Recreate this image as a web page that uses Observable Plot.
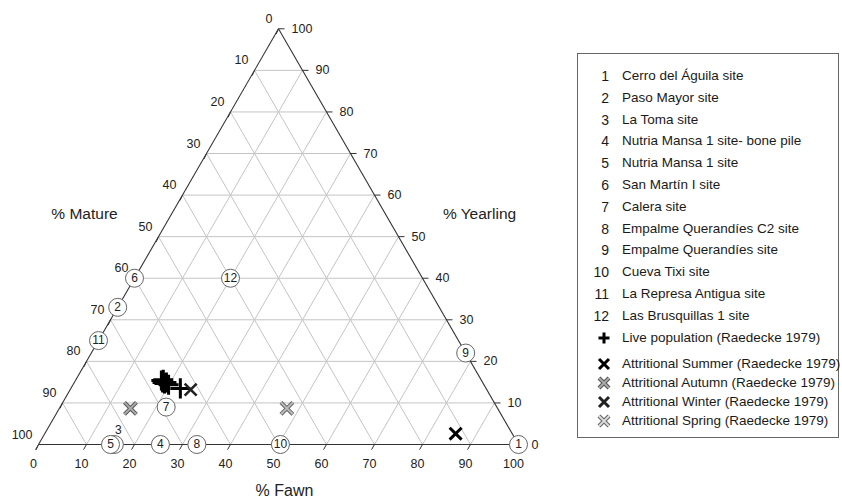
<!DOCTYPE html>
<html>
<head>
<meta charset="utf-8">
<script src="https://cdn.jsdelivr.net/npm/d3@7"></script>
<script src="https://cdn.jsdelivr.net/npm/@observablehq/plot@0.6"></script>
<style>
  body { margin: 0; background: #fff; font-family: "Liberation Sans", Arial, sans-serif; }
  #wrap { position: relative; width: 842px; height: 500px; overflow: hidden; }
  #legend { position: absolute; left: 577px; top: 53px; width: 262px; height: 385px; border: 1px solid #666; box-sizing: border-box; }
  .row { position: absolute; left: 0; width: 300px; height: 20px; line-height: 20px; white-space: nowrap; color: #1a1a1a; }
  .num { position: absolute; left: 0; width: 31px; text-align: right; font-size: 14px; }
  .sym { position: absolute; left: 18px; top: 2px; }
  .lab { position: absolute; left: 44px; font-size: 13.5px; }
</style>
</head>
<body>
<div id="wrap">
  <div id="chart"></div>
  <div id="legend"></div>
</div>
<script>
// ---- data ----
const siteIds = [1, 2, 3, 4, 5, 6, 7, 8, 9, 10, 11, 12];
const siteNames = [
  "Cerro del Águila site", "Paso Mayor site", "La Toma site",
  "Nutria Mansa 1 site- bone pile", "Nutria Mansa 1 site", "San Martín I site",
  "Calera site", "Empalme Querandíes C2 site", "Empalme Querandíes site",
  "Cueva Tixi site", "La Represa Antigua site", "Las Brusquillas 1 site"
];
const siteFawn     = [100, 0, 15.8, 25.4, 15, 0, 22.1, 33, 78, 50.4, 0, 20];
const siteYearling = [0, 33, 0, 0, 0, 40, 9, 0, 22, 0, 25, 40];

const liveFawn     = [17.9, 18.2, 18.9, 19.2, 19.9, 18.4, 22.8];
const liveYearling = [15.4, 15.6, 14.7, 14.9, 14.4, 14.9, 13.5];

const seasonNames    = ["Summer", "Autumn", "Winter", "Spring"];
const seasonFawn     = [85.6, 14.8, 25.1, 47.4];
const seasonYearling = [2.6, 8.7, 13.2, 8.7];

const tickValues = [0, 10, 20, 30, 40, 50, 60, 70, 80, 90, 100];
const gridValues = [10, 20, 30, 40, 50, 60, 70, 80, 90];

const axisTitles = ["% Mature", "% Yearling", "% Fawn"];

// ---- ternary -> cartesian (fawn, yearling; mature = 100 - fawn - yearling) ----
const S3 = Math.sqrt(3) / 2;
const tern = (f, yr) => ({x: f + yr / 2, y: yr * S3});

const sites = siteIds.map((id, i) => ({id, name: siteNames[i], ...tern(siteFawn[i], siteYearling[i])}));
const live = liveFawn.map((f, i) => tern(f, liveYearling[i]));
const seasons = seasonNames.map((n, i) => ({name: n, ...tern(seasonFawn[i], seasonYearling[i])}));

const seg = (a, b) => ({x1: a.x, y1: a.y, x2: b.x, y2: b.y});
const grid = gridValues.flatMap(v => [
  seg(tern(0, v), tern(100 - v, v)),          // constant yearling
  seg(tern(v, 0), tern(v, 100 - v)),          // constant fawn
  seg(tern(0, 100 - v), tern(100 - v, 0))     // constant mature
]);
const edges = [
  seg(tern(0, 0), tern(100, 0)),
  seg(tern(100, 0), tern(0, 100)),
  seg(tern(0, 100), tern(0, 0))
];
const L = 1.25;
const bottomTicks = tickValues.map(v => {const p = tern(v, 0); return {v, ...p, x2: p.x - 0.5 * L, y2: p.y - S3 * L};});
const rightTicks = tickValues.map(v => {const p = tern(100 - v, v); return {v, ...p, x2: p.x + L, y2: p.y};});
const leftTicks = tickValues.map(v => {const p = tern(0, 100 - v); return {v, ...p, x2: p.x - 0.4 * L, y2: p.y - 0.9 * L};});

const font = "Liberation Sans, Arial, sans-serif";
const titleOpts = {frameAnchor: "top-left", textAnchor: "middle", lineAnchor: "middle", fill: "#222"};

const chart = Plot.plot({
  width: 842,
  height: 500,
  marginLeft: 38,
  marginRight: 324,
  marginTop: 28.3,
  marginBottom: 56,
  x: {domain: [0, 100], axis: null},
  y: {domain: [0, 100 * S3], axis: null},
  style: {fontFamily: font, background: "white", overflow: "visible"},
  marks: [
    Plot.link(grid, {x1: "x1", y1: "y1", x2: "x2", y2: "y2", stroke: "#c4c4c4", strokeWidth: 1}),
    Plot.link(edges, {x1: "x1", y1: "y1", x2: "x2", y2: "y2", stroke: "#333", strokeWidth: 1.1}),
    Plot.link(bottomTicks, {x1: "x", y1: "y", x2: "x2", y2: "y2", stroke: "#333"}),
    Plot.link(rightTicks, {x1: "x", y1: "y", x2: "x2", y2: "y2", stroke: "#333"}),
    Plot.link(leftTicks, {x1: "x", y1: "y", x2: "x2", y2: "y2", stroke: "#333"}),
    Plot.text(bottomTicks, {x: "x", y: "y", text: d => String(d.v), dx: -5, dy: 19, fontSize: 12.5, fill: "#222"}),
    Plot.text(rightTicks, {x: "x", y: "y", text: d => String(d.v), dx: 13, textAnchor: "start", fontSize: 12.5, fill: "#222"}),
    Plot.text(leftTicks, {x: "x", y: "y", text: d => String(d.v), dx: -6, dy: -10, textAnchor: "end", fontSize: 12.5, fill: "#222"}),
    Plot.text([axisTitles[0]], {...titleOpts, dx: 46, dy: 185, fontSize: 15.5}),
    Plot.text([axisTitles[1]], {...titleOpts, dx: 441, dy: 185, fontSize: 15.5}),
    Plot.text([axisTitles[2]], {...titleOpts, dx: 246, dy: 462, fontSize: 16}),
    // live population
    Plot.dot(live, {x: "x", y: "y", symbol: "plus", r: 6.5, stroke: "#000", strokeWidth: 3}),
    // attritional seasons
    Plot.dot(seasons.filter(d => d.name === "Summer"), {x: "x", y: "y", symbol: "times", r: 5.5, stroke: "#000", strokeWidth: 3}),
    Plot.dot(seasons.filter(d => d.name === "Winter"), {x: "x", y: "y", symbol: "times", r: 5.5, stroke: "#222", strokeWidth: 2.6}),
    Plot.dot(seasons.filter(d => d.name === "Autumn"), {x: "x", y: "y", symbol: "times", r: 5.5, stroke: "#555", strokeWidth: 4}),
    Plot.dot(seasons.filter(d => d.name === "Autumn"), {x: "x", y: "y", symbol: "times", r: 5.5, stroke: "#aaa", strokeWidth: 2}),
    Plot.dot(seasons.filter(d => d.name === "Spring"), {x: "x", y: "y", symbol: "times", r: 5.5, stroke: "#666", strokeWidth: 4}),
    Plot.dot(seasons.filter(d => d.name === "Spring"), {x: "x", y: "y", symbol: "times", r: 5.5, stroke: "#bbb", strokeWidth: 2}),
    // sites
    Plot.dot(sites, {x: "x", y: "y", r: 9, fill: "white", stroke: "#666", strokeWidth: 1}),
    Plot.text(sites.filter(d => d.id !== 3), {x: "x", y: "y", text: d => String(d.id), fontSize: 12, fill: "#222"}),
    Plot.text(sites.filter(d => d.id === 3), {x: "x", y: "y", text: d => String(d.id), dx: 4, dy: -14, fontSize: 12, fill: "#222"})
  ]
});
document.getElementById("chart").appendChild(chart);

// ---- legend ----
const legend = document.getElementById("legend");
const plusSvg = '<svg width="16" height="16" viewBox="-8 -8 16 16"><path d="M-5.5,0H5.5M0,-5.5V5.5" stroke="#000" stroke-width="3"/></svg>';
const timesSvg = (outer, inner, w) => '<svg width="16" height="16" viewBox="-8 -8 16 16"><path d="M-5,-5L5,5M-5,5L5,-5" stroke="' + outer + '" stroke-width="' + w + '"/>' +
  (inner ? '<path d="M-5,-5L5,5M-5,5L5,-5" stroke="' + inner + '" stroke-width="1.8"/>' : '') + '</svg>';
const seasonSym = {
  Summer: timesSvg("#000", null, 3),
  Autumn: timesSvg("#555", "#aaa", 4),
  Winter: timesSvg("#222", null, 3),
  Spring: timesSvg("#666", "#ddd", 4)
};
siteIds.forEach((id, i) => {
  const r = document.createElement("div");
  r.className = "row";
  r.style.top = (12 + i * 21.8) + "px";
  r.innerHTML = '<span class="num">' + id + '</span><span class="lab">' + siteNames[i] + '</span>';
  legend.appendChild(r);
});
{
  const r = document.createElement("div");
  r.className = "row";
  r.style.top = (12 + 12 * 21.8) + "px";
  r.innerHTML = '<span class="sym">' + plusSvg + '</span><span class="lab">Live population (Raedecke 1979)</span>';
  legend.appendChild(r);
}
seasonNames.forEach((n, i) => {
  const r = document.createElement("div");
  r.className = "row";
  r.style.top = (300 + i * 19) + "px";
  r.innerHTML = '<span class="sym">' + seasonSym[n] + '</span><span class="lab">Attritional ' + n + ' (Raedecke 1979)</span>';
  legend.appendChild(r);
});
</script>
</body>
</html>
